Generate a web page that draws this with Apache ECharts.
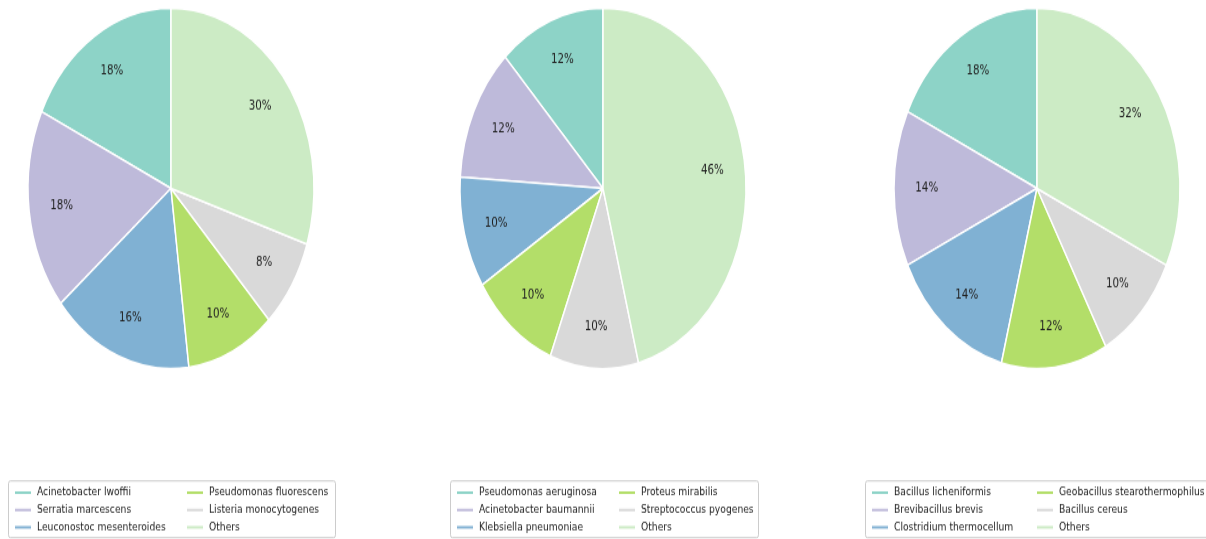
<!DOCTYPE html>
<html>
<head>
<meta charset="utf-8">
<script src="https://cdn.jsdelivr.net/npm/echarts@6/dist/echarts.min.js"></script>
<style>
  html { margin: 0; padding: 0; background: #fff; overflow: hidden; height: 539px; }
  body { margin: 0; padding: 0; background: #fff; height: 539px; }
  #chart { width: 1206px; height: 428px; transform: scaleY(1.26); transform-origin: 0 0; }
</style>
</head>
<body>
<div id="chart"></div>
<script>
// Three composition pies, shares in percent (counter-clockwise from 12 o'clock)
const namesA = ['Acinetobacter lwoffii', 'Serratia marcescens', 'Leuconostoc mesenteroides',
                'Pseudomonas fluorescens', 'Listeria monocytogenes', 'Others'];
const valuesA = [18, 18, 16, 10, 8, 30];

const namesB = ['Pseudomonas aeruginosa', 'Acinetobacter baumannii', 'Klebsiella pneumoniae',
                'Proteus mirabilis', 'Streptococcus pyogenes', 'Others'];
const valuesB = [12, 12, 10, 10, 10, 46];

const namesC = ['Bacillus licheniformis', 'Brevibacillus brevis', 'Clostridium thermocellum',
                'Geobacillus stearothermophilus', 'Bacillus cereus', 'Others'];
const valuesC = [18, 14, 14, 12, 10, 32];

const palette = ['#8dd3c7', '#bebada', '#80b1d3', '#b3de69', '#d9d9d9', '#ccebc5'];

const FONT = 'DejaVu Sans';
const R = 143;          // pie radius
const CY = 149.5;       // pie centre height
const pies = [
  { names: namesA, values: valuesA, cx: 171, box: [8, 327], col1: 13, col2: 185 },
  { names: namesB, values: valuesB, cx: 603, box: [450, 308], col1: 455, col2: 617 },
  { names: namesC, values: valuesC, cx: 1037, box: [865, 360], col1: 870, col2: 1035 }
];

const series = [];
const legends = [];
const graphics = [];

pies.forEach(function (p) {
  const items = p.names.map(function (n, i) {
    return { name: n, value: p.values[i], itemStyle: { color: palette[i] } };
  });
  // filled wedges
  series.push({
    type: 'pie', center: [p.cx, CY], radius: R,
    startAngle: 90, clockwise: false, animation: false, silent: true,
    avoidLabelOverlap: false,
    label: { show: false }, labelLine: { show: false },
    itemStyle: { borderColor: '#ffffff', borderWidth: 1.5 },
    data: items
  });
  // percentage labels at 0.75 of the radius
  series.push({
    type: 'pie', center: [p.cx, CY], radius: [R * 0.5, R],
    startAngle: 90, clockwise: false, animation: false, silent: true,
    avoidLabelOverlap: false,
    itemStyle: { color: 'rgba(0,0,0,0)', borderWidth: 0 },
    labelLine: { show: false },
    label: {
      show: true, position: 'inside', formatter: '{c}%',
      fontFamily: FONT, fontSize: 10.3, color: '#222'
    },
    data: p.names.map(function (n, i) { return { name: n, value: p.values[i] }; })
  });

  // two-column legend: first three names left, last three right
  const legendBase = {
    orient: 'vertical', top: 386.4, padding: 0,
    itemWidth: 18, itemHeight: 4, itemGap: 4.8, icon: 'rect',
    selectedMode: false,
    textStyle: { fontFamily: FONT, fontSize: 9.2, color: '#222' }
  };
  legends.push(Object.assign({}, legendBase, { left: p.col1, data: p.names.slice(0, 3) }));
  legends.push(Object.assign({}, legendBase, { left: p.col2, data: p.names.slice(3) }));

  // legend frame
  graphics.push({
    type: 'rect', silent: true,
    shape: { x: p.box[0] + 0.5, y: 381.7, width: p.box[1], height: 45, r: 2 },
    style: { fill: 'none', stroke: '#cccccc', lineWidth: 1 }
  });
});

const chart = echarts.init(document.getElementById('chart'), null, { renderer: 'canvas' });
chart.setOption({
  backgroundColor: '#ffffff',
  animation: false,
  graphic: graphics,
  legend: legends,
  series: series
});
</script>
</body>
</html>
